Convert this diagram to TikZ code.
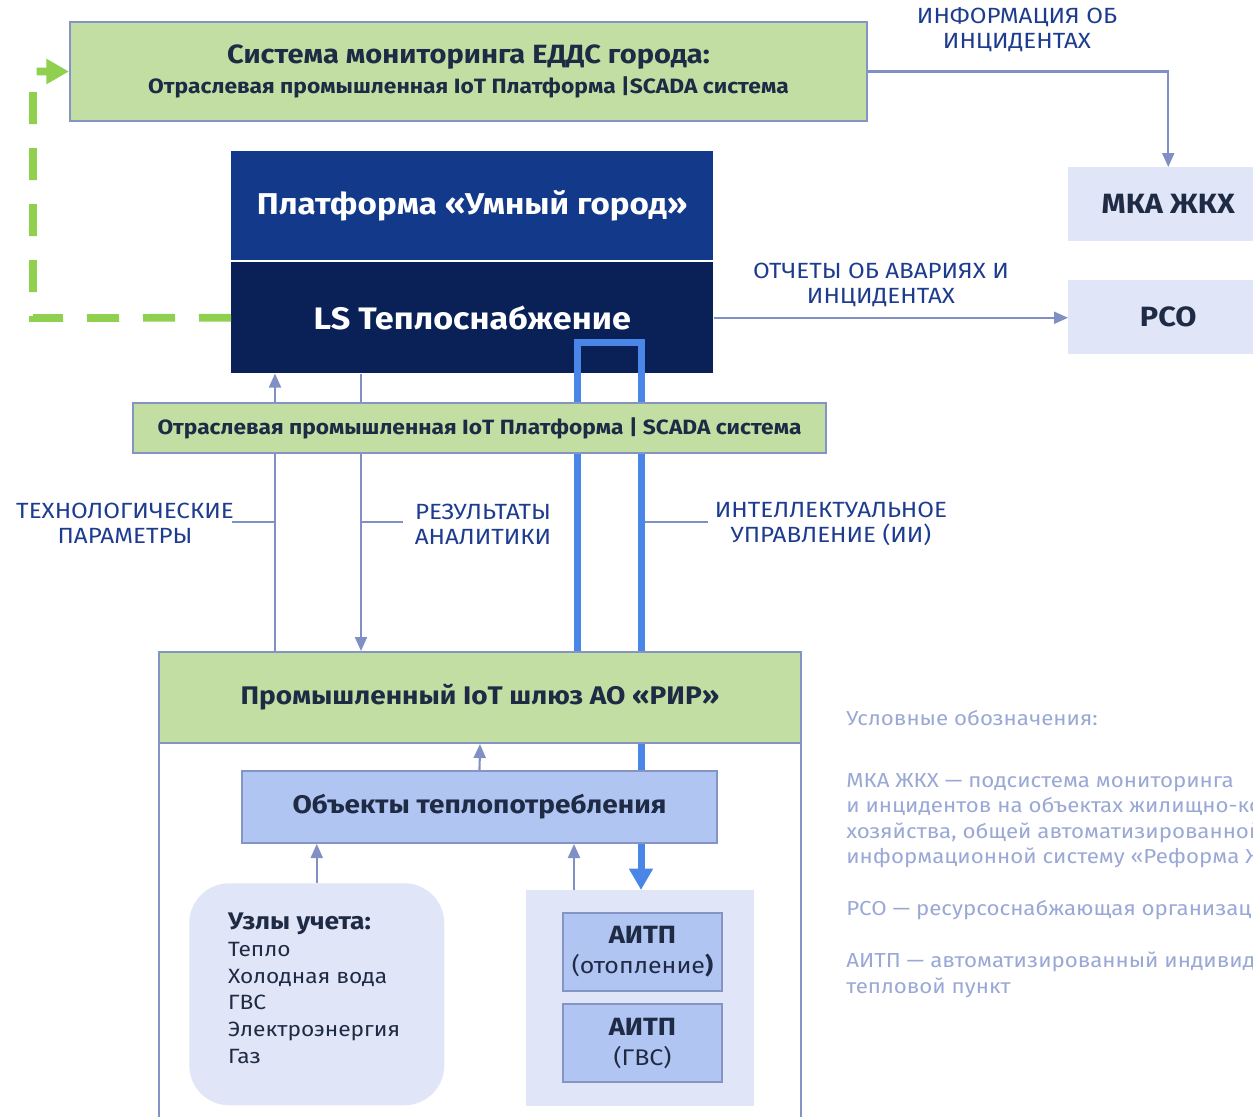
\documentclass[tikz,border=0pt]{standalone}
\usepackage{fontspec}
\setmainfont{Fira Sans}[FakeStretch=1.1]
\usetikzlibrary{arrows.meta}
\definecolor{gfill}{RGB}{195,222,163}
\definecolor{bord}{RGB}{132,148,196}
\definecolor{conncol}{RGB}{128,144,196}
\definecolor{pblue}{RGB}{18,57,138}
\definecolor{lsblue}{RGB}{10,33,87}
\definecolor{thickblue}{RGB}{74,134,232}
\definecolor{lfill}{RGB}{224,230,247}
\definecolor{ofill}{RGB}{177,197,243}
\definecolor{txt}{RGB}{31,42,68}
\definecolor{lbl}{RGB}{30,60,143}
\definecolor{leg}{RGB}{154,168,214}
\definecolor{dgreen}{RGB}{143,209,79}
\newcommand\fsz[2]{\fontsize{#1}{#2}\selectfont}
\pgfdeclarelayer{back}\pgfdeclarelayer{front}\pgfsetlayers{back,main,front}
\tikzset{
  pxbox/.style 2 args={anchor=north west, inner sep=0pt, minimum width=#1*0.75pt, minimum height=#2*0.75pt},
  greenbox/.style={fill=gfill, draw=bord, line width=1.5pt, text=txt},
  conn/.style={draw=conncol, line width=1.6pt},
  arr/.style={conn, -{Triangle[length=10.5pt,width=9pt]}},
  leader/.style={draw=conncol, line width=1pt},
  lab/.style={text=lbl, font=\fsz{16.5pt}{18.75pt}, align=center, inner sep=0pt},
  bluearr/.style={draw=thickblue, line width=5.25pt, line join=miter, -{Triangle[length=16pt,width=17pt]}},
  greendash/.style={draw=dgreen, line width=5.8pt, dash pattern=on 24pt off 18pt, -{Triangle[length=17pt,width=18pt]}},
}
\begin{document}
\begin{tikzpicture}[x=0.75pt,y=-0.75pt]
\useasboundingbox (0,0) rectangle (1253,1117);
\clip (0,0) rectangle (1253,1117);
\begin{pgfonlayer}{back}
  \fill[white] (0,0) rectangle (1253,1117);
  \node[pxbox={482}{109}, fill=pblue, text=white, font=\bfseries\fsz{22.55pt}{27pt}] (plat) at (231,151) {Платформа «Умный город»};
  \node[pxbox={482}{111}, fill=lsblue, text=white, font=\bfseries\fsz{23.3pt}{27pt}] (ls) at (231,262) {LS Теплоснабжение};
\end{pgfonlayer}
\begin{pgfonlayer}{front}
  \node[pxbox={693}{50}, greenbox, font=\bfseries\fsz{15.5pt}{18pt}] (scada) at (132,402) {Отраслевая промышленная IoT Платформа | SCADA система};
  \node[pxbox={642}{91}, greenbox, font=\bfseries\fsz{19.1pt}{22pt}] (gwhead) at (158,651) {Промышленный IoT шлюз АО «РИР»};
  \node[pxbox={475}{72}, fill=ofill, draw=bord, line width=1.5pt, text=txt, font=\bfseries\fsz{19.1pt}{22pt}] (obj) at (241,770) {Объекты теплопотребления};
\end{pgfonlayer}
% main layer
\node[pxbox={797}{99}, greenbox, align=center, font=\bfseries] (top) at (69,21)
  {\fsz{19.8pt}{22.5pt}Система мониторинга ЕДДС города:\\[4pt] \fsz{15.55pt}{22.5pt}Отраслевая промышленная IoT Платформа |SCADA система};
\node[pxbox={200}{74}, fill=lfill, text=txt, font=\bfseries\fsz{20.9pt}{23pt}] (mka) at (1068,167) {МКА ЖКХ};
\node[pxbox={200}{74}, fill=lfill, text=txt, font=\bfseries\fsz{20.9pt}{23pt}] (pco) at (1068,280) {РСО};
\node[pxbox={642}{500}, draw=bord, line width=1.5pt, fill=white] (gw) at (158,651) {};
\node[pxbox={255}{222}, fill=lfill, rounded corners=30pt] (uzly) at (189,883) {};
\node[inner sep=0pt, text=txt, align=left, font=\fsz{15.5pt}{20pt}] (uzlytxt) at ([xshift=-2pt, yshift=4.5pt]uzly.center)
  {{\bfseries\fsz{18pt}{20pt}Узлы учета:}\\Тепло\\Холодная вода\\ГВС\\Электроэнергия\\Газ};
\node[pxbox={228}{216}, fill=lfill] (aitpc) at (526,890) {};
\node[pxbox={159}{78}, fill=ofill, draw=bord, line width=1.5pt, text=txt, align=center, font=\fsz{17pt}{22.5pt}] (aitp1) at (562,912)
  {\bfseries\fsz{18.7pt}{22.5pt}АИТП\\(отопление\textbf{)}};
\node[pxbox={159}{78}, fill=ofill, draw=bord, line width=1.5pt, text=txt, align=center, font=\fsz{17pt}{22.5pt}] (aitp2) at (562,1003)
  {\bfseries\fsz{18.7pt}{22.5pt}АИТП\\(ГВС)};
% labels
\node[lab] (info) at (1017,30) {ИНФОРМАЦИЯ ОБ\\ИНЦИДЕНТАХ};
\node[lab] (otch) at (881,285) {ОТЧЕТЫ ОБ АВАРИЯХ И\\ИНЦИДЕНТАХ};
\node[lab] (tech) at (125,523) {ТЕХНОЛОГИЧЕСКИЕ\\ПАРАМЕТРЫ};
\node[lab] (res) at (483,524) {РЕЗУЛЬТАТЫ\\АНАЛИТИКИ};
\node[lab] (ii) at (831,524) {ИНТЕЛЛЕКТУАЛЬНОЕ\\УПРАВЛЕНИЕ (ИИ)};
% legend
\node[anchor=north west, inner sep=0pt, align=left, text=leg, font=\fsz{15.2pt}{19.1pt}] (legend) at (846,710)
  {Условные обозначения:\\[27.4pt]
   МКА ЖКХ — подсистема мониторинга\\
   и инцидентов на объектах жилищно-коммунального\\
   хозяйства, общей автоматизированной\\
   информационной систему «Реформа ЖКХ»\\[19.9pt]
   РСО — ресурсоснабжающая организация\\[19.9pt]
   АИТП — автоматизированный индивидуальный\\
   тепловой пункт};
% coordinates
\coordinate (gcorner) at (33,318);
\coordinate (tp) at (275,522);
\coordinate (tl) at (232,522);
\coordinate (rp) at (361,522);
\coordinate (rl) at (403,522);
\coordinate (ip) at (641,522);
\coordinate (il) at (708,522);
\coordinate (u1) at (577,342);
\coordinate (u2) at (641,342);
\coordinate (ax) at (574,870);
% connectors
\draw[arr] (top.east) -| (mka.north);
\draw[arr] (ls.east) -- (ls.east -| pco.west);
\draw[greendash] (ls.west) -- (gcorner) |- (top.west);
\draw[arr] (gwhead.north -| tp) -- (ls.south -| tp);
\draw[arr] (ls.south -| rp) -- (gwhead.north -| rp);
\draw[leader] (tp) -- (tl);
\draw[leader] (rp) -- (rl);
\draw[leader] (ip) -- (il);
\draw[bluearr] (gwhead.north -| u1) -- (u1) -- (u2) -- (aitpc.north -| u2);
\draw[arr] (obj.north) -- (gwhead.south);
\draw[arr] (uzly.north) -- (uzly.north |- obj.south);
\draw[arr] (aitpc.north -| ax) -- (obj.south -| ax);
\end{tikzpicture}
\end{document}
